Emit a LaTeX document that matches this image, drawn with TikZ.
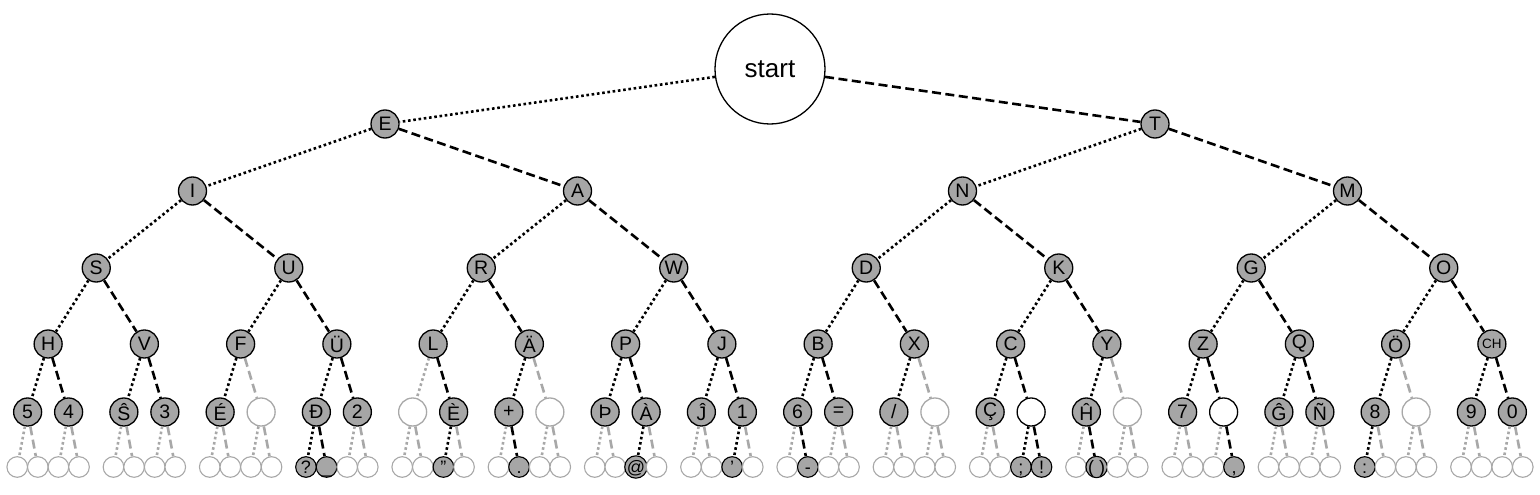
\documentclass[tikz,border=0pt]{standalone}
\usepackage{fontspec}
\setmainfont{Liberation Sans}
\definecolor{nodegray}{RGB}{166,166,166}
\definecolor{linegray}{RGB}{168,168,168}
\tikzset{
  base/.style={circle, inner sep=0pt, line width=1.3pt},
  rootnode/.style={base, draw=black, fill=white, minimum size=110pt, font=\fontsize{26pt}{26pt}\selectfont},
  full/.style={base, draw=black, fill=nodegray, minimum size=28pt, font=\fontsize{19.5pt}{19.5pt}\selectfont},
  smallfull/.style={full, font=\fontsize{13.5pt}{13.5pt}\selectfont},
  whiteb/.style={base, draw=black, fill=white, minimum size=28pt},
  emptyb/.style={base, draw=linegray, fill=white, minimum size=28pt},
  lfe/.style={base, draw=linegray, fill=white, minimum size=20.6pt, line width=1.1pt},
  lff/.style={base, draw=black, fill=nodegray, minimum size=20.6pt, line width=1.1pt, font=\fontsize{18pt}{18pt}\selectfont, text height=12.9pt, text depth=0pt},
  dotl/.style={line width=2.6pt, dash pattern=on 2.6pt off 2.7pt},
  dashl/.style={line width=2.6pt, dash pattern=on 9pt off 4.5pt},
}
\begin{document}
\begin{tikzpicture}[x=1pt,y=-1pt]
\useasboundingbox (0,0) rectangle (1540,495);
\node[rootnode] (root) at (770,69) {start};
\foreach \lab [count=\k from 0] in {E,T}
  \node[full] (n1-\k) at ({385+770*\k},124) {\lab};
\foreach \lab [count=\k from 0] in {I,A,N,M}
  \node[full] (n2-\k) at ({192.5+385*\k},191) {\lab};
\foreach \lab [count=\k from 0] in {S,U,R,W,D,K,G,O}
  \node[full] (n3-\k) at ({96.25+192.5*\k},268) {\lab};
\foreach \lab/\typ [count=\k from 0] in {H/full,V/full,F/full,Ü/full,L/full,Ä/full,P/full,J/full,B/full,X/full,C/full,Y/full,Z/full,Q/full,Ö/full,CH/smallfull}
  \node[\typ] (n4-\k) at ({48.125+96.25*\k},344) {\lab};

\draw[dotl] (root) -- (n1-0);
\draw[dashl] (root) -- (n1-1);
\foreach \L/\N in {2/3,3/7,4/15}{
  \pgfmathtruncatemacro\P{\L-1}
  \foreach \k in {0,...,\N}{
    \pgfmathtruncatemacro\p{floor(\k/2)}
    \ifodd\k \def\est{dashl}\else \def\est{dotl}\fi
    \draw[\est] (n\P-\p) -- (n\L-\k);
  }
}

\foreach \lab/\typ/\ec [count=\jj from 0] in {5/full/black, 4/full/black, Ŝ/full/black, 3/full/black, É/full/black, \relax/emptyb/linegray, Đ/full/black, 2/full/black, \relax/emptyb/linegray, È/full/black, +/full/black, \relax/emptyb/linegray, Þ/full/black, À/full/black, Ĵ/full/black, 1/full/black, 6/full/black, =/full/black, {/}/full/black, \relax/emptyb/linegray, Ç/full/black, \relax/whiteb/black, Ĥ/full/black, \relax/emptyb/linegray, 7/full/black, \relax/whiteb/black, Ĝ/full/black, Ñ/full/black, 8/full/black, \relax/emptyb/linegray, 9/full/black, 0/full/black}{
  \pgfmathtruncatemacro\p{floor(\jj/2)}
  \pgfmathsetmacro\xx{48.125+96.25*\p-20.5+41*mod(\jj,2)}
  \ifodd\jj \def\est{dashl}\else \def\est{dotl}\fi
  \node[\typ] (n5-\jj) at (\xx,412) {\lab};
  \draw[\est, draw=\ec] (n4-\p) -- (n5-\jj);
}

\foreach \lab/\typ/\ec [count=\m from 0] in {
  \relax/lfe/linegray, \relax/lfe/linegray, \relax/lfe/linegray, \relax/lfe/linegray,
  \relax/lfe/linegray, \relax/lfe/linegray, \relax/lfe/linegray, \relax/lfe/linegray,
  \relax/lfe/linegray, \relax/lfe/linegray, \relax/lfe/linegray, \relax/lfe/linegray,
  ?/lff/black, \_/lff/black, \relax/lfe/linegray, \relax/lfe/linegray,
  \relax/lfe/linegray, \relax/lfe/linegray, "/lff/black, \relax/lfe/linegray,
  \relax/lfe/linegray, ./lff/black, \relax/lfe/linegray, \relax/lfe/linegray,
  \relax/lfe/linegray, \relax/lfe/linegray, @/lff/black, \relax/lfe/linegray,
  \relax/lfe/linegray, \relax/lfe/linegray, '/lff/black, \relax/lfe/linegray,
  \relax/lfe/linegray, -/lff/black, \relax/lfe/linegray, \relax/lfe/linegray,
  \relax/lfe/linegray, \relax/lfe/linegray, \relax/lfe/linegray, \relax/lfe/linegray,
  \relax/lfe/linegray, \relax/lfe/linegray, ;/lff/black, !/lff/black,
  \relax/lfe/linegray, ( )/lff/black, \relax/lfe/linegray, \relax/lfe/linegray,
  \relax/lfe/linegray, \relax/lfe/linegray, \relax/lfe/linegray, {,}/lff/black,
  \relax/lfe/linegray, \relax/lfe/linegray, \relax/lfe/linegray, \relax/lfe/linegray,
  :/lff/black, \relax/lfe/linegray, \relax/lfe/linegray, \relax/lfe/linegray,
  \relax/lfe/linegray, \relax/lfe/linegray, \relax/lfe/linegray, \relax/lfe/linegray}{
  \pgfmathtruncatemacro\p{floor(\m/2)}
  \pgfmathtruncatemacro\q{floor(\m/4)}
  \pgfmathsetmacro\xx{17.225+96.25*\q+20.6*mod(\m,4)}
  \ifodd\m \def\est{dashl}\else \def\est{dotl}\fi
  \node[\typ] (n6-\m) at (\xx,467) {\lab};
  \draw[\est, draw=\ec] (n5-\p) -- (n6-\m);
}
\end{tikzpicture}
\end{document}
